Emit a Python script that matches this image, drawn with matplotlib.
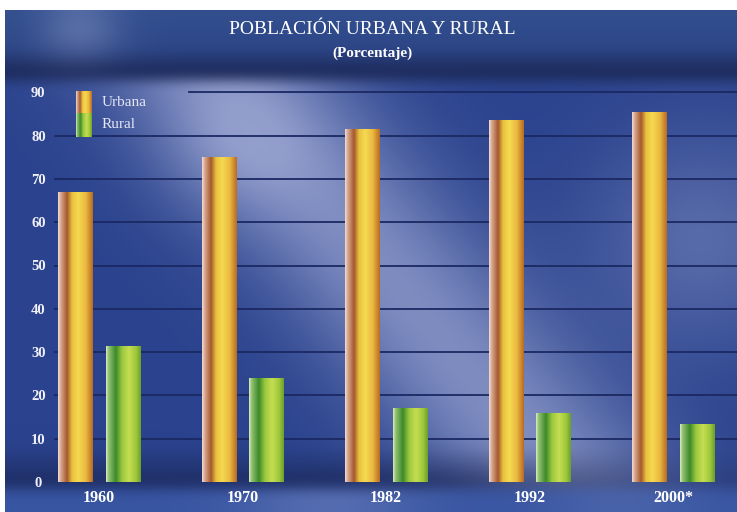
import numpy as np
import matplotlib
matplotlib.use("Agg")
import matplotlib.pyplot as plt
from matplotlib.colors import LinearSegmentedColormap, to_rgb

# ---------------- data ----------------
years = ["1960", "1970", "1982", "1992", "2000*"]
urbana = [67.0, 75.0, 81.5, 83.5, 85.5]
rural = [31.5, 24.0, 17.0, 16.0, 13.5]
yticks = [0, 10, 20, 30, 40, 50, 60, 70, 80, 90]
title = "POBLACIÓN URBANA Y RURAL"
subtitle = "(Porcentaje)"
legend_labels = ["Urbana", "Rural"]

W, H = 737, 512
fig = plt.figure(figsize=(W / 100, H / 100), dpi=100, facecolor="white")

# ---------------- decorative background ----------------
def build_background(nx=62, ny=43):
    xs = (np.arange(nx) + 0.5) * (W - 5) / nx + 5
    ys = (np.arange(ny) + 0.5) * (H - 10) / ny + 10
    X, Y = np.meshgrid(xs, ys)
    base = np.array(to_rgb("#2b438e"))
    light = np.array(to_rgb("#a9b2da"))
    dark = np.array(to_rgb("#17224f"))
    # diagonal light band
    p0 = np.array([230.0, 85.0]); p1 = np.array([560.0, 483.0])
    dvec = (p1 - p0) / np.linalg.norm(p1 - p0)
    nvec = np.array([-dvec[1], dvec[0]])
    d = (X - p0[0]) * nvec[0] + (Y - p0[1]) * nvec[1]
    t = 0.66 * np.exp(-(d / 95.0) ** 2)
    t += 0.35 * np.exp(-(((X - 700) / 110) ** 2 + ((Y - 240) / 110) ** 2))
    t += 0.25 * np.exp(-(((X - 230) / 80) ** 2 + ((Y - 150) / 70) ** 2))
    t = np.clip(t, 0, 0.82)
    plot = base[None, None, :] * (1 - t[..., None]) + light[None, None, :] * t[..., None]
    # dark strip near the baseline
    s = np.clip((Y - 445) / 37.0, 0, 1) * 0.65 * (1 - 0.5 * np.clip((X - 450) / 250, 0, 1))
    plot = plot * (1 - s[..., None]) + dark[None, None, :] * s[..., None]
    # title band
    tb = np.array([to_rgb("#33508f"), to_rgb("#2d4687"), to_rgb("#1d2c5e"), to_rgb("#1a2651")])
    tpos = np.array([10, 50, 68, 85])
    title_col = np.stack([np.interp(Y, tpos, tb[:, k]) for k in range(3)], axis=-1)
    blob = 0.35 * np.exp(-(((X - 80) / 40) ** 2 + ((Y - 30) / 30) ** 2))
    title_col = title_col * (1 - blob[..., None]) + light[None, None, :] * blob[..., None]
    # x label band
    xb = np.array(to_rgb("#3855a2"))
    lb = 0.25 * np.exp(-(((X - 330) / 90) ** 2)) + 0.15 * np.exp(-(((X - 620) / 80) ** 2))
    xband = xb[None, None, :] * (1 - lb[..., None]) + light[None, None, :] * lb[..., None]
    img = np.where((Y < 85)[..., None], title_col, plot)
    img = np.where((Y > 483)[..., None], xband, img)
    return np.clip(img, 0, 1)

bg = fig.add_axes([5 / W, 0, (W - 5) / W, (H - 10) / H], zorder=0)
bg.imshow(build_background(), aspect="auto", interpolation="bicubic", extent=[0, 1, 0, 1])
bg.set_axis_off()

# ---------------- main axes ----------------
px_per_unit = 4.33
bottom_px, top_px = 482, 87
ax = fig.add_axes([5 / W, (H - bottom_px) / H, (W - 5) / W, (bottom_px - top_px) / H], zorder=2)
ax.patch.set_alpha(0)
group_px0, group_dx = 99.0, 143.5
for sp in ax.spines.values():
    sp.set_visible(False)

# gridlines
for v in yticks[1:]:
    xmin = 185 / W if v == 90 else 50 / W
    ax.axhline(v, xmin=xmin, xmax=1, color="#1b2963", lw=1.3, zorder=1)

x = np.arange(len(years))
off, bw = 0.167, 0.237

urb_cmap = LinearSegmentedColormap.from_list(
    "urb", [(0.0, "#f4dcd4"), (0.08, "#d8a890"), (0.26, "#a4582c"),
            (0.40, "#e8c040"), (0.58, "#f6da50"), (0.80, "#eab840"), (1.0, "#b86a22")])
rur_cmap = LinearSegmentedColormap.from_list(
    "rur", [(0.0, "#d8ecc0"), (0.08, "#90c070"), (0.28, "#3c8a2a"),
            (0.46, "#9cc840"), (0.66, "#c4de50"), (0.86, "#a0c83c"), (1.0, "#6aa02a")])
grad = np.linspace(0, 1, 256)[None, :]

def gradient_bars(xpos, vals, cmap):
    bars = ax.bar(xpos, vals, width=bw, color="none", edgecolor="none", zorder=3)
    for b in bars:
        x0, y0 = b.get_x(), b.get_y()
        im = ax.imshow(grad, cmap=cmap, aspect="auto", interpolation="bilinear",
                       extent=[x0, x0 + b.get_width(), y0, y0 + b.get_height()], zorder=3)
        im.set_clip_path(b)
    return bars

gradient_bars(x - off, urbana, urb_cmap)
gradient_bars(x + off, rural, rur_cmap)
ax.set_ylim(0, (bottom_px - top_px) / px_per_unit)
ax.set_xlim((5 - group_px0) / group_dx, (W - group_px0) / group_dx)

serif = ["Liberation Serif", "DejaVu Serif"]
ax.set_xticks(x)
ax.set_xticklabels(years, family=serif, fontsize=11.5, fontweight="bold", color="white")
ax.tick_params(axis="x", length=0, pad=6)
ax.set_yticks(yticks)
ax.set_yticklabels([str(v) for v in yticks], family=serif, fontsize=10.5,
                   fontweight="bold", color="#f0f0f8")
ax.tick_params(axis="y", length=0, pad=-24)
for lab in ax.get_yticklabels():
    lab.set_horizontalalignment("center")

# ---------------- titles ----------------
fig.text(372 / W, 1 - 30 / H, title, ha="center", va="center", family=serif,
         fontsize=14, color="white")
fig.text(372 / W, 1 - 53 / H, subtitle, ha="center", va="center", family=serif,
         fontsize=11, fontweight="bold", color="white")

# ---------------- legend ----------------
sw_x, sw_w = 76, 16
for (ytop, ybot), cmap, lab in [((91, 113), urb_cmap, legend_labels[0]),
                                ((113, 137), rur_cmap, legend_labels[1])]:
    sax = fig.add_axes([sw_x / W, 1 - ybot / H, sw_w / W, (ybot - ytop) / H], zorder=3)
    sax.imshow(grad, cmap=cmap, aspect="auto", interpolation="bilinear")
    sax.set_axis_off()
    fig.text(102 / W, 1 - (ytop + ybot) / 2 / H, lab, ha="left", va="center",
             family=serif, fontsize=11, color="#e4e6f4", zorder=4)

fig.savefig("out.png", dpi=100, facecolor="white")
